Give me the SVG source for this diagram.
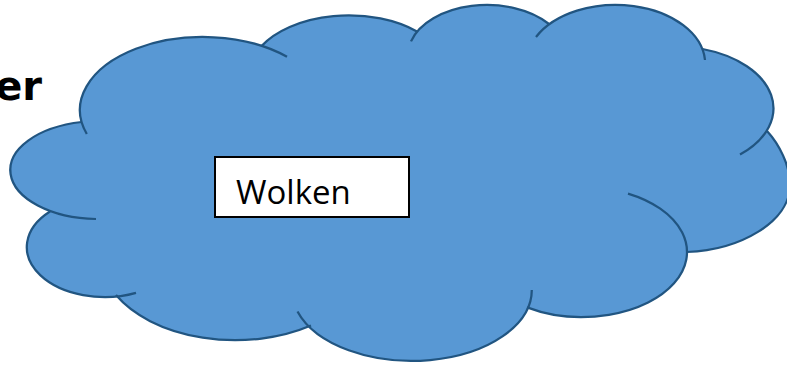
<svg xmlns="http://www.w3.org/2000/svg" width="787" height="366" viewBox="0 0 787 366">
<style>
.fill{fill:#5898d4;stroke:none}
.edge{fill:none;stroke:#215581;stroke-width:2.25;stroke-linecap:butt}
.box{fill:#fff;stroke:#000;stroke-width:2}
.lbl{font-family:"Open Sans",sans-serif;font-size:33px;fill:#000}
.top{font-family:"DejaVu Sans",sans-serif;font-weight:bold;font-size:40px;fill:#000}
</style>
<text class="top" x="42" y="100" text-anchor="end">er</text>
<g id="cloud">
<path class="fill" d="M86.8,134 A123,73 0 0 1 287,56.7 L261.5,46 A100,60 0 0 1 417,31.5 L411,41.4 A79,50 0 0 1 549,24 L536,37 A89.5,59 0 0 1 705,60 L702.5,49 A100,62 0 0 1 740,154.6 L767,131 C779,144 790,165 790,185 C790,222 740,250 687,252 L628,193.6 A105,65 0 1 1 527,307.4 L531.8,290 A120,71 0 0 1 297.5,311.5 L311,325.5 A135,85 0 0 1 116,295.1 L136,292.9 A78,50 0 0 1 50,211.5 L96,219 A89,49 0 0 1 81.7,122 Z"/>
<path class="edge" d="M86.8,134 A123,73 0 0 1 287,56.7"/>
<path class="edge" d="M261.5,46 A100,60 0 0 1 417,31.5"/>
<path class="edge" d="M411,41.4 A79,50 0 0 1 549,24"/>
<path class="edge" d="M536,37 A89.5,59 0 0 1 705,60"/>
<path class="edge" d="M702.5,49 A100,62 0 0 1 740,154.6"/>
<path class="edge" d="M767,131 C779,144 790,165 790,185 C790,222 740,250 687,252"/>
<path class="edge" d="M628,193.6 A105,65 0 1 1 527,307.4"/>
<path class="edge" d="M531.8,290 A120,71 0 0 1 297.5,311.5"/>
<path class="edge" d="M311,325.5 A135,85 0 0 1 116,295.1"/>
<path class="edge" d="M136,292.9 A78,50 0 0 1 50,211.5"/>
<path class="edge" d="M96,219 A89,49 0 0 1 81.7,122"/>
</g>
<g id="label">
<rect class="box" x="215" y="157" width="194" height="60"/>
<text class="lbl" x="236" y="204">Wolken</text>
</g>
</svg>
